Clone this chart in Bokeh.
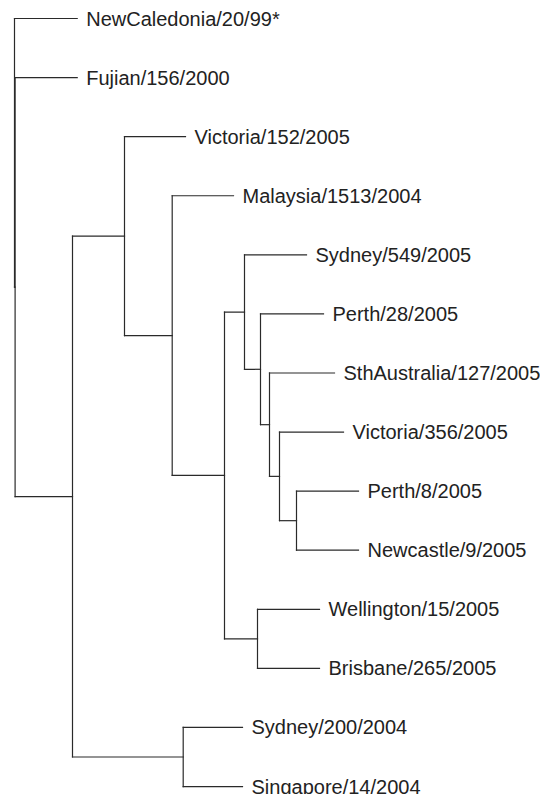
from bokeh.plotting import figure
from bokeh.models import Range1d, ColumnDataSource
from bokeh.core.properties import value
from bokeh.embed import file_html
from bokeh.resources import INLINE

# Tree nodes (listed depth-first, children in drawing order)
node_names = ["root", "NewCaledonia/20/99*", "n1", "Fujian/156/2000", "n2", "n3",
              "Victoria/152/2005", "n4", "Malaysia/1513/2004", "n5", "n6",
              "Sydney/549/2005", "n7", "Perth/28/2005", "n8", "SthAustralia/127/2005",
              "n9", "Victoria/356/2005", "n10", "Perth/8/2005", "Newcastle/9/2005",
              "n11", "Wellington/15/2005", "Brisbane/265/2005", "n12",
              "Sydney/200/2004", "Singapore/14/2004"]
node_parents = [None, "root", "root", "n1", "n1", "n2",
                "n3", "n3", "n4", "n4", "n5",
                "n6", "n6", "n7", "n7", "n8",
                "n8", "n9", "n9", "n10", "n10",
                "n5", "n11", "n11", "n2",
                "n12", "n12"]
# cumulative branch length from the root (display units)
node_depths = [0, 62.7, 0.6, 62.7, 58, 110,
               171, 157.7, 219, 210, 230,
               292, 246, 309, 255, 320,
               265, 329, 282, 344, 344,
               243, 305, 305, 168.7,
               228, 228]

children = {n: [] for n in node_names}
for n, par in zip(node_names, node_parents):
    if par is not None:
        children[par].append(n)
depth = dict(zip(node_names, node_depths))
parent = dict(zip(node_names, node_parents))

# leaf order -> y positions
ypos = {}
leaves = []
def assign(n):
    if not children[n]:
        ypos[n] = -len(leaves)
        leaves.append(n)
    else:
        for c in children[n]:
            assign(c)
        ys = [ypos[c] for c in children[n]]
        ypos[n] = (max(ys) + min(ys)) / 2.0
assign("root")

x0, y0, x1, y1 = [], [], [], []
for n in node_names:
    if parent[n] is not None:
        x0.append(depth[parent[n]]); x1.append(depth[n])
        y0.append(ypos[n]); y1.append(ypos[n])
    if children[n]:
        ys = [ypos[c] for c in children[n]]
        x0.append(depth[n]); x1.append(depth[n])
        y0.append(max(ys)); y1.append(min(ys))

seg = ColumnDataSource(dict(x0=x0, y0=y0, x1=x1, y1=y1))
lab = ColumnDataSource(dict(x=[depth[n] for n in leaves],
                            y=[ypos[n] for n in leaves],
                            t=leaves))

W, H = 540, 794
SP = 59.08  # pixels per leaf row
p = figure(width=W, height=H, output_backend="svg", toolbar_location=None,
           x_range=Range1d(-14, W - 14),
           y_range=Range1d(-(H - 18) / SP, 18 / SP),
           x_axis_location=None, y_axis_location=None,
           min_border=0, outline_line_color=None,
           background_fill_color="white", border_fill_color="white")
p.grid.visible = False

p.segment("x0", "y0", "x1", "y1", source=seg, line_color="#2a2a2a",
          line_width=1.2, line_cap="square")
p.text("x", "y", text="t", source=lab, x_offset=9,
       text_baseline="middle", text_align="left",
       text_font=value("Liberation Sans"), text_font_size="20px",
       text_color="#222222")

open("out.html", "w").write(file_html(p, INLINE))
